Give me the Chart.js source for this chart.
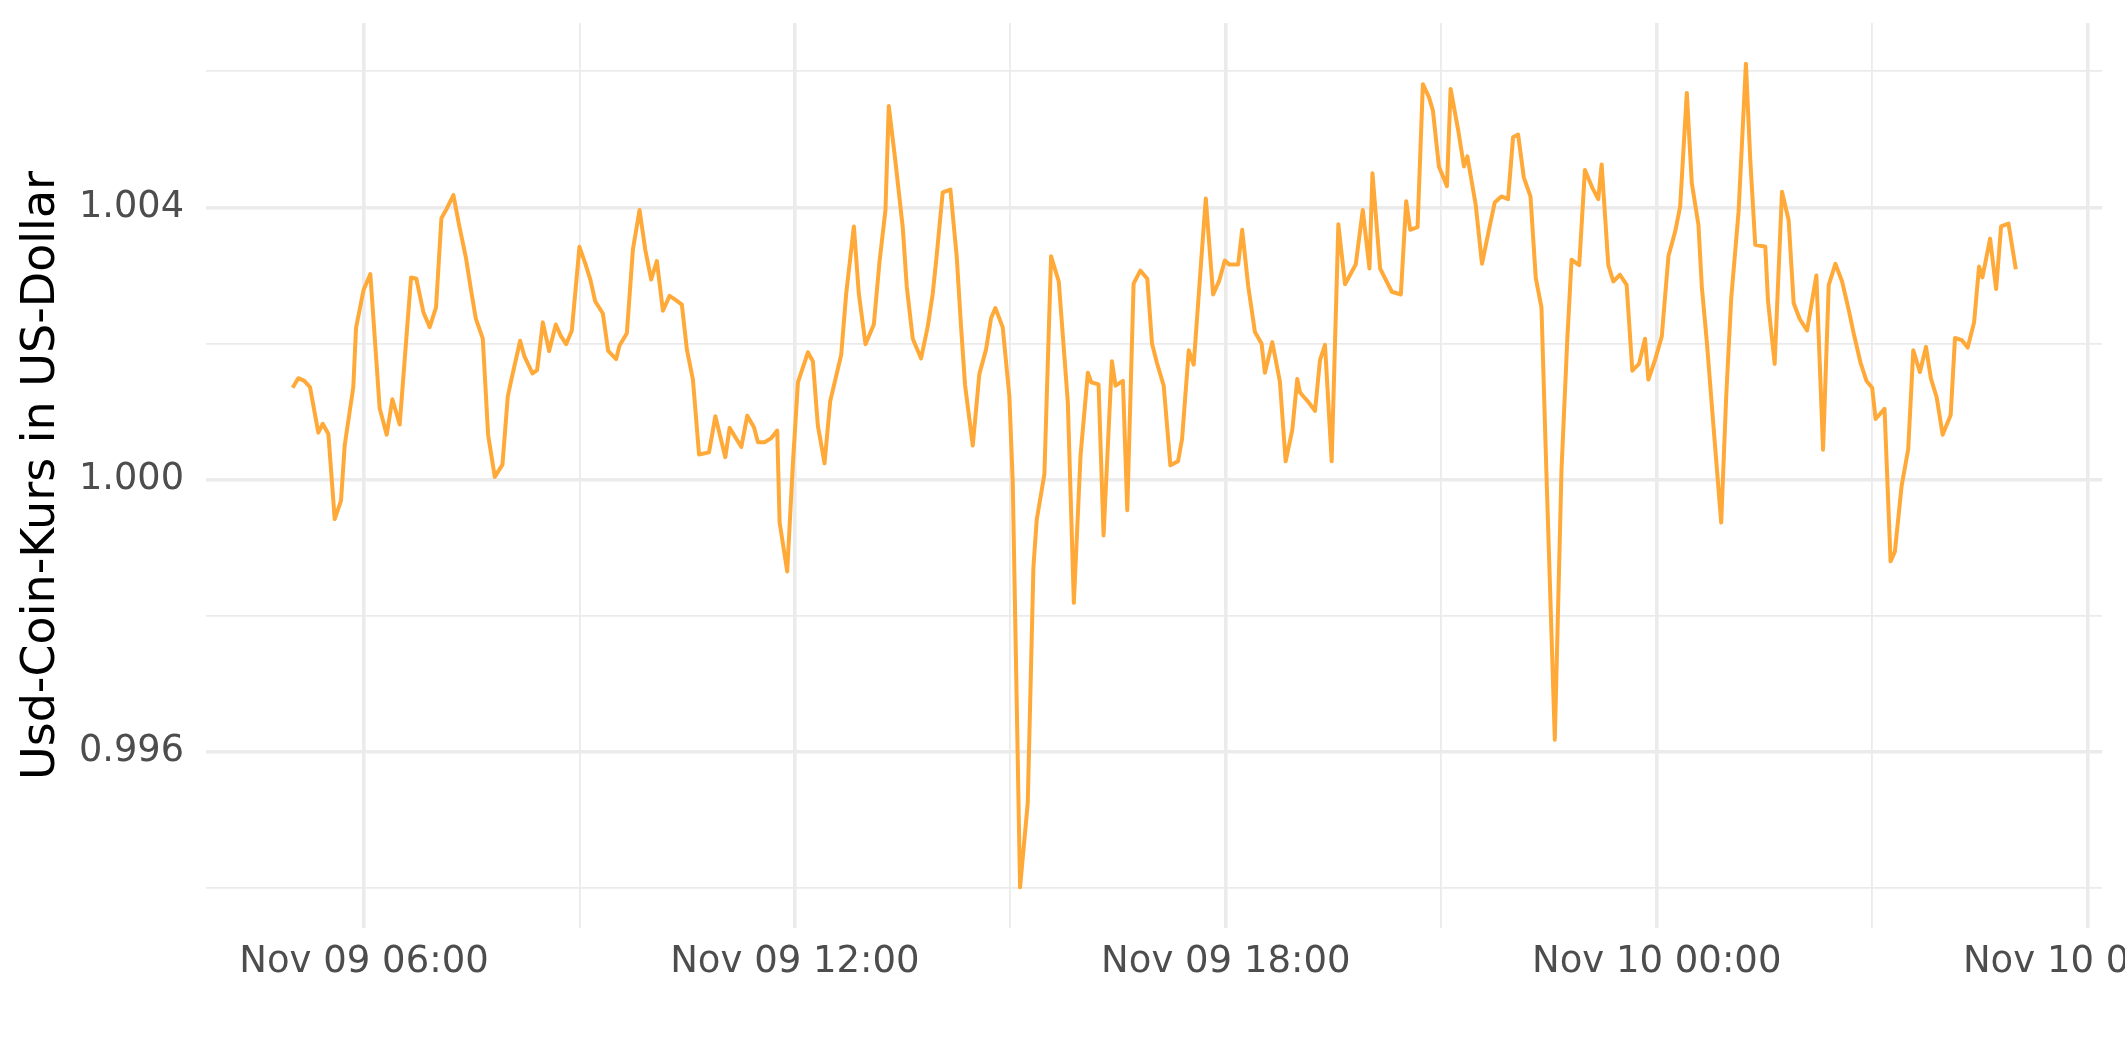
<!DOCTYPE html>
<html><head><meta charset="utf-8">
<script src="https://cdn.jsdelivr.net/npm/chart.js@4.4.0/dist/chart.umd.min.js"></script>
<style>
html,body{margin:0;padding:0;background:#fff;overflow:hidden;width:2125px;height:1062px;}
#wrap{position:absolute;left:0;top:0;width:2300px;height:1062px;}
</style></head><body>
<div id="wrap"><canvas id="c" width="2300" height="1062"></canvas></div>
<script>
// time in hours since Nov 09 00:00
const hours = [
5.006,5.085,5.169,5.248,5.364,5.425,5.504,5.592,5.680,5.731,5.851,5.889,5.995,6.088,6.218,6.316,6.395,6.497,6.655,6.729,
6.827,6.915,7.003,7.078,7.147,7.245,7.328,7.421,7.491,7.556,7.654,7.728,7.821,7.928,8.002,8.048,8.174,8.234,8.346,8.411,
8.490,8.578,8.671,8.736,8.815,8.894,9.000,9.079,9.149,9.219,9.326,9.400,9.511,9.558,9.660,9.744,9.837,9.916,9.999,10.078,
10.162,10.255,10.338,10.426,10.496,10.580,10.665,10.804,10.892,11.031,11.091,11.254,11.337,11.430,11.485,11.578,11.671,11.754,11.787,11.893,
11.972,12.042,12.181,12.250,12.320,12.413,12.491,12.644,12.714,12.821,12.890,12.983,13.099,13.178,13.261,13.307,13.400,13.502,13.558,13.641,
13.757,13.850,13.919,13.975,14.058,14.165,14.253,14.313,14.369,14.476,14.568,14.661,14.731,14.791,14.893,14.986,15.033,15.135,15.242,15.321,
15.367,15.474,15.567,15.674,15.800,15.884,15.977,16.079,16.126,16.228,16.298,16.414,16.465,16.567,16.628,16.716,16.809,16.907,16.972,17.042,
17.135,17.228,17.335,17.391,17.484,17.553,17.637,17.721,17.823,17.907,17.986,18.047,18.172,18.228,18.312,18.405,18.498,18.544,18.647,18.753,
18.833,18.926,18.995,19.033,19.149,19.242,19.312,19.381,19.474,19.567,19.660,19.809,19.907,20.000,20.042,20.149,20.312,20.437,20.512,20.567,
20.670,20.744,20.828,20.884,20.967,21.079,21.130,21.233,21.316,21.363,21.479,21.567,21.674,21.744,21.837,21.930,22.000,22.070,22.149,22.242,
22.316,22.395,22.465,22.581,22.674,22.753,22.814,22.921,23.000,23.102,23.186,23.233,23.326,23.395,23.488,23.581,23.660,23.753,23.837,23.884,
23.977,24.070,24.163,24.256,24.326,24.419,24.488,24.581,24.628,24.698,24.791,24.898,24.967,25.037,25.140,25.242,25.302,25.372,25.512,25.549,
25.642,25.744,25.837,25.907,25.991,26.093,26.223,26.316,26.395,26.488,26.581,26.674,26.744,26.837,26.921,27.000,27.047,27.172,27.256,27.316,
27.409,27.502,27.572,27.665,27.749,27.819,27.898,27.981,28.093,28.153,28.247,28.330,28.419,28.488,28.535,28.642,28.726,28.795,28.898,29.000
];
const usdc = [
1.00135,1.00149,1.00145,1.00136,1.00069,1.00082,1.00067,0.99942,0.99969,1.00050,1.00136,1.00223,1.00279,1.00302,1.00105,1.00066,1.00118,1.00081,1.00297,1.00295,
1.00246,1.00224,1.00253,1.00384,1.00397,1.00418,1.00372,1.00325,1.00278,1.00237,1.00207,1.00066,1.00004,1.00022,1.00122,1.00145,1.00204,1.00181,1.00156,1.00161,
1.00231,1.00189,1.00228,1.00212,1.00199,1.00219,1.00342,1.00318,1.00295,1.00262,1.00244,1.00189,1.00177,1.00197,1.00215,1.00338,1.00396,1.00338,1.00294,1.00321,
1.00248,1.00270,1.00264,1.00257,1.00191,1.00147,1.00037,1.00040,1.00093,1.00033,1.00076,1.00048,1.00094,1.00077,1.00055,1.00055,1.00061,1.00072,0.99937,0.99865,
1.00024,1.00143,1.00187,1.00174,1.00079,1.00024,1.00115,1.00183,1.00273,1.00372,1.00273,1.00199,1.00228,1.00320,1.00396,1.00549,1.00467,1.00370,1.00283,1.00207,
1.00178,1.00225,1.00273,1.00330,1.00422,1.00426,1.00328,1.00225,1.00139,1.00050,1.00155,1.00191,1.00237,1.00252,1.00224,1.00123,0.99997,0.99401,0.99525,0.99871,
0.99941,1.00008,1.00328,1.00291,1.00114,0.99819,1.00035,1.00157,1.00143,1.00140,0.99918,1.00174,1.00138,1.00145,0.99955,1.00288,1.00307,1.00295,1.00200,1.00171,
1.00138,1.00021,1.00027,1.00060,1.00190,1.00169,1.00292,1.00413,1.00272,1.00292,1.00322,1.00316,1.00316,1.00367,1.00284,1.00217,1.00200,1.00157,1.00202,1.00144,
1.00027,1.00073,1.00148,1.00128,1.00114,1.00101,1.00176,1.00198,1.00027,1.00375,1.00287,1.00316,1.00396,1.00310,1.00450,1.00310,1.00276,1.00272,1.00409,1.00367,
1.00371,1.00581,1.00562,1.00542,1.00460,1.00431,1.00574,1.00515,1.00460,1.00475,1.00404,1.00317,1.00372,1.00407,1.00416,1.00412,1.00503,1.00507,1.00444,1.00416,
1.00296,1.00253,1.00007,0.99618,1.00014,1.00202,1.00323,1.00315,1.00455,1.00429,1.00412,1.00463,1.00315,1.00291,1.00301,1.00286,1.00160,1.00170,1.00207,1.00147,
1.00176,1.00210,1.00328,1.00364,1.00401,1.00568,1.00436,1.00374,1.00283,1.00202,1.00077,0.99937,1.00121,1.00266,1.00394,1.00611,1.00471,1.00345,1.00342,1.00263,
1.00170,1.00423,1.00381,1.00259,1.00236,1.00219,1.00300,1.00044,1.00286,1.00317,1.00291,1.00249,1.00214,1.00172,1.00145,1.00135,1.00089,1.00104,0.99880,0.99894,
0.99990,1.00045,1.00190,1.00158,1.00195,1.00148,1.00121,1.00066,1.00095,1.00208,1.00205,1.00194,1.00231,1.00313,1.00297,1.00354,1.00280,1.00372,1.00376,1.00309
];
const xTickHours = [6,9,12,15,18,21,24,27,30];
const xTickLabels = {6:'Nov 09 06:00',12:'Nov 09 12:00',18:'Nov 09 18:00',24:'Nov 10 00:00',30:'Nov 10 06:00'};
const yTicks = [0.994,0.996,0.998,1.000,1.002,1.004,1.006];
const yLabelled = [0.996,1.000,1.004];
const yTitle = 'Usd-Coin-Kurs in US-Dollar';

const isLab = v => yLabelled.some(t => Math.abs(t - v) < 1e-7);
const FONT = "'DejaVu Sans', sans-serif";

new Chart(document.getElementById('c'), {
  type: 'line',
  data: {
    datasets: [{
      data: hours.map((h, i) => ({x: h, y: usdc[i]})),
      borderColor: '#FFA938',
      borderWidth: 4,
      pointRadius: 0,
      tension: 0,
      fill: false,
      borderJoinStyle: 'round',
      borderCapStyle: 'butt'
    }]
  },
  options: {
    responsive: false,
    animation: false,
    devicePixelRatio: 1,
    layout: {padding: {left: 0, top: 23, right: 198, bottom: 0}},
    plugins: {legend: {display: false}, tooltip: {enabled: false}},
    scales: {
      x: {
        type: 'linear',
        min: 3.8, max: 30.2,
        afterBuildTicks: s => { s.ticks = xTickHours.map(v => ({value: v})); },
        afterFit: s => { s.height = 134; },
        ticks: {
          autoSkip: false, maxRotation: 0, minRotation: 0,
          callback: v => xTickLabels[v] || '',
          font: {family: FONT, size: 37},
          color: '#4d4d4d',
          padding: 12
        },
        grid: {
          color: '#ebebeb',
          lineWidth: c => (c.tick && c.tick.value % 6 === 0) ? 3.6 : 1.8,
          drawTicks: false
        },
        border: {display: false}
      },
      y: {
        type: 'linear',
        min: 0.993413, max: 1.006708,
        afterBuildTicks: s => { s.ticks = yTicks.map(v => ({value: v})); },
        afterFit: s => { s.width = 206; s.paddingTop = 0; s.paddingBottom = 0; },
        ticks: {
          autoSkip: false,
          callback: v => isLab(v) ? v.toFixed(3) : '',
          font: {family: FONT, size: 36.7},
          color: '#4d4d4d',
          padding: 22
        },
        grid: {
          color: '#ebebeb',
          lineWidth: c => (c.tick && isLab(c.tick.value)) ? 3.6 : 1.8,
          drawTicks: false
        },
        border: {display: false},
        title: {
          display: true,
          text: yTitle,
          font: {family: FONT, size: 46},
          color: '#000000',
          padding: {top: 14, bottom: 0}
        }
      }
    }
  }
});
</script>
</body></html>
